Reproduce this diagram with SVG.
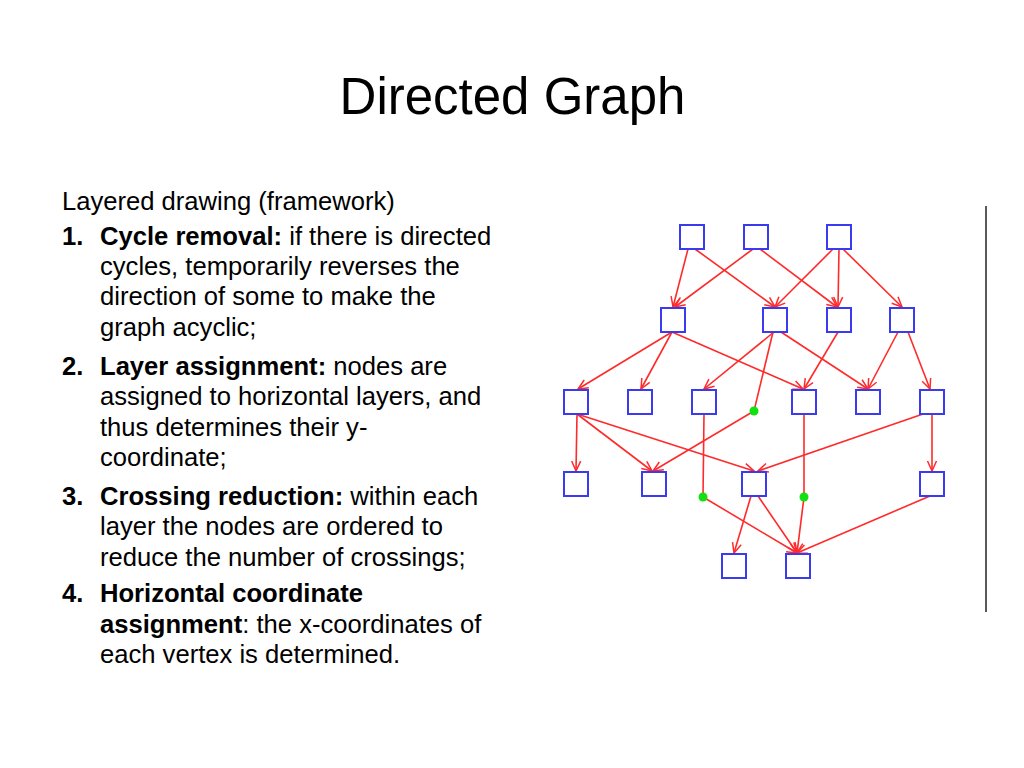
<svg xmlns="http://www.w3.org/2000/svg" width="1024" height="768" viewBox="0 0 1024 768">
<style>
.t{font-family:"Liberation Sans",Arial,sans-serif;fill:#000}
.title{font-size:51px}
.b{font-size:25.6px}
.bold{font-weight:bold}
.box{fill:#fff;stroke:#3a3af0;stroke-width:2}
.e{stroke:#ff2a2a;stroke-width:1.6;fill:none}
.a{marker-end:url(#arr)}
.dot{fill:#11e011}
</style>
<defs>
<marker id="arr" markerUnits="userSpaceOnUse" markerWidth="14" markerHeight="14" viewBox="-12 -7 14 14" refX="0" refY="0" orient="auto">
<path d="M-10,-4.5 L0,0 L-10,4.5" fill="none" stroke="#ff2a2a" stroke-width="1.5"/>
</marker>
</defs>
<rect width="1024" height="768" fill="#fff"/>
<text class="t title" x="512.5" y="114" text-anchor="middle">Directed Graph</text>
<g id="text">
<text class="t b" x="62" y="210">Layered drawing (framework)</text>
<text class="t b bold" x="62" y="245">1.</text>
<text class="t b" x="100" y="245"><tspan class="bold">Cycle removal:</tspan> if there is directed</text>
<text class="t b" x="100" y="275">cycles, temporarily reverses the</text>
<text class="t b" x="100" y="305">direction of some to make the</text>
<text class="t b" x="100" y="336">graph acyclic;</text>
<text class="t b bold" x="62" y="375">2.</text>
<text class="t b" x="100" y="375"><tspan class="bold">Layer assignment:</tspan> nodes are</text>
<text class="t b" x="100" y="405">assigned to horizontal layers, and</text>
<text class="t b" x="100" y="436">thus determines their y-</text>
<text class="t b" x="100" y="466">coordinate;</text>
<text class="t b bold" x="62" y="505">3.</text>
<text class="t b" x="100" y="505"><tspan class="bold">Crossing reduction:</tspan> within each</text>
<text class="t b" x="100" y="535">layer the nodes are ordered to</text>
<text class="t b" x="100" y="566">reduce the number of crossings;</text>
<text class="t b bold" x="62" y="602">4.</text>
<text class="t b bold" x="100" y="602">Horizontal coordinate</text>
<text class="t b" x="100" y="633"><tspan class="bold">assignment</tspan>: the x-coordinates of</text>
<text class="t b" x="100" y="663">each vertex is determined.</text>
</g>
<line x1="986" y1="206" x2="986" y2="612" stroke="#222" stroke-width="1.5"/>
<g id="connectors">
<line class="e a" x1="688" y1="249" x2="673" y2="307"/>
<line class="e a" x1="695" y1="249" x2="775" y2="307"/>
<line class="e a" x1="753" y1="249" x2="675" y2="307"/>
<line class="e a" x1="760" y1="249" x2="837" y2="307"/>
<line class="e a" x1="833" y1="249" x2="775" y2="307"/>
<line class="e a" x1="839" y1="249" x2="838" y2="307"/>
<line class="e a" x1="843" y1="249" x2="902" y2="307"/>
<line class="e a" x1="672" y1="332" x2="578" y2="389"/>
<line class="e a" x1="672" y1="332" x2="641" y2="389"/>
<line class="e a" x1="672" y1="332" x2="803" y2="389"/>
<line class="e a" x1="774" y1="332" x2="704" y2="389"/>
<line class="e" x1="773" y1="332" x2="754" y2="411"/>
<line class="e a" x1="754" y1="411" x2="653" y2="471"/>
<line class="e a" x1="781" y1="332" x2="868" y2="389"/>
<line class="e a" x1="838" y1="332" x2="804" y2="389"/>
<line class="e a" x1="898" y1="332" x2="868" y2="389"/>
<line class="e a" x1="908" y1="332" x2="930" y2="389"/>
<line class="e a" x1="577" y1="414" x2="576" y2="471"/>
<line class="e a" x1="577" y1="414" x2="652" y2="471"/>
<line class="e a" x1="577" y1="414" x2="754" y2="471"/>
<line class="e" x1="704" y1="414" x2="703" y2="497"/>
<line class="e a" x1="703" y1="497" x2="797" y2="553"/>
<line class="e" x1="804" y1="414" x2="804" y2="497"/>
<line class="e a" x1="804" y1="497" x2="797" y2="553"/>
<line class="e a" x1="923" y1="414" x2="758" y2="471"/>
<line class="e a" x1="932" y1="414" x2="932" y2="471"/>
<line class="e a" x1="751" y1="496" x2="734" y2="553"/>
<line class="e a" x1="758" y1="496" x2="797" y2="553"/>
<line class="e a" x1="930" y1="496" x2="797" y2="553"/>
</g>
<g id="dots">
<circle class="dot" cx="754" cy="411" r="4.5"/>
<circle class="dot" cx="703" cy="497" r="4.5"/>
<circle class="dot" cx="804" cy="497" r="4.5"/>
</g>
<g id="n-a0"><rect class="box" x="680" y="225" width="24" height="24"/></g>
<g id="n-a1"><rect class="box" x="744" y="225" width="24" height="24"/></g>
<g id="n-a2"><rect class="box" x="827" y="225" width="24" height="24"/></g>
<g id="n-b0"><rect class="box" x="661" y="308" width="24" height="24"/></g>
<g id="n-b1"><rect class="box" x="763" y="308" width="24" height="24"/></g>
<g id="n-b2"><rect class="box" x="827" y="308" width="24" height="24"/></g>
<g id="n-b3"><rect class="box" x="890" y="308" width="24" height="24"/></g>
<g id="n-c0"><rect class="box" x="564" y="390" width="24" height="24"/></g>
<g id="n-c1"><rect class="box" x="628" y="390" width="24" height="24"/></g>
<g id="n-c2"><rect class="box" x="692" y="390" width="24" height="24"/></g>
<g id="n-c3"><rect class="box" x="792" y="390" width="24" height="24"/></g>
<g id="n-c4"><rect class="box" x="856" y="390" width="24" height="24"/></g>
<g id="n-c5"><rect class="box" x="920" y="390" width="24" height="24"/></g>
<g id="n-d0"><rect class="box" x="564" y="472" width="24" height="24"/></g>
<g id="n-d1"><rect class="box" x="642" y="472" width="24" height="24"/></g>
<g id="n-d2"><rect class="box" x="742" y="472" width="24" height="24"/></g>
<g id="n-d3"><rect class="box" x="920" y="472" width="24" height="24"/></g>
<g id="n-e0"><rect class="box" x="722" y="554" width="24" height="24"/></g>
<g id="n-e1"><rect class="box" x="786" y="554" width="24" height="24"/></g>
</svg>
